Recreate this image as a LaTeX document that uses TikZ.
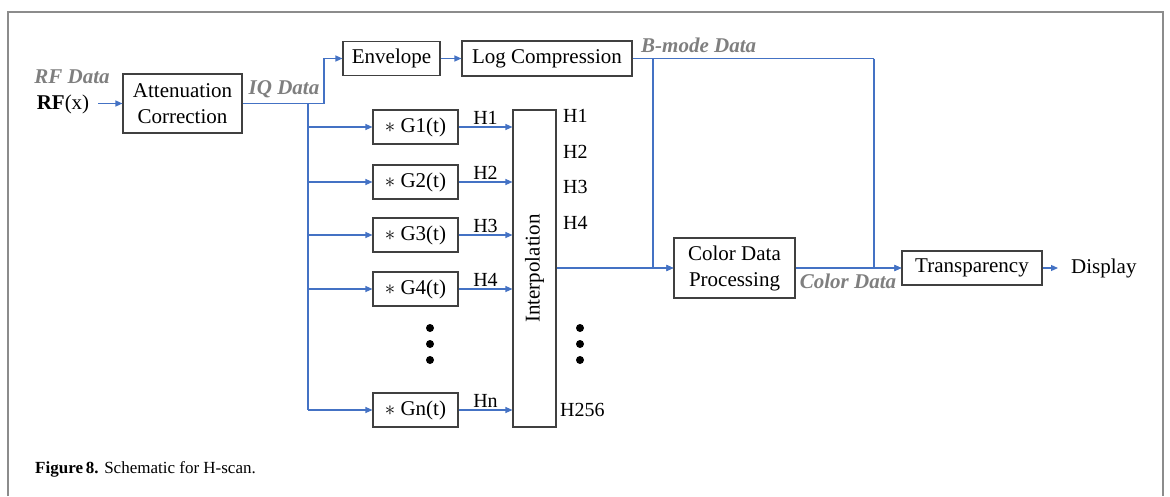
\documentclass[tikz,border=0pt]{standalone}
\usepackage{fontspec}
\setmainfont{Liberation Serif}
\usetikzlibrary{arrows.meta}
\definecolor{flow}{HTML}{4472C4}
\definecolor{tag}{HTML}{7F7F7F}
\definecolor{framegray}{HTML}{8C8C8C}
\definecolor{boxedge}{HTML}{404040}

\begin{document}
\begin{tikzpicture}[x=1pt,y=-1pt,
  box/.style={draw=boxedge, line width=1.1pt, inner sep=0pt,
    font=\fontsize{21}{26}\selectfont, align=center},
  flowline/.style={draw=flow, line width=1.2pt},
  arrow/.style={flowline, -{Triangle[length=7pt,width=6pt]}},
  tagtext/.style={text=tag, font=\fontsize{21}{25}\selectfont\bfseries\itshape, inner sep=0pt},
  plain/.style={font=\fontsize{21}{25}\selectfont, inner sep=0pt},
  hlabel/.style={font=\fontsize{20}{24}\selectfont, inner sep=2pt},
  dotmark/.style={circle, fill=black, inner sep=0pt, minimum size=8pt},
]
\useasboundingbox (0,0) rectangle (1170,496);

% outer frame (open at the bottom)
\draw[framegray, line width=2pt] (8,496) -- (8,12) -- (1163,12) -- (1163,496);

% processing blocks
\node[box, minimum width=119pt, minimum height=59pt] (att) at (182.5,103.5) {Attenuation\\Correction};
\node[box, minimum width=97pt, minimum height=34pt] (env) at (391.5,58.5) {Envelope};
\node[box, minimum width=170pt, minimum height=35pt] (logc) at (547,58.5) {Log Compression};
\node[box, minimum width=85pt, minimum height=34pt] (G1) at (415.5,127) {$\ast$ G1(t)};
\node[box, minimum width=85pt, minimum height=34pt] (G2) at (415.5,182) {$\ast$ G2(t)};
\node[box, minimum width=85pt, minimum height=34pt] (G3) at (415.5,235) {$\ast$ G3(t)};
\node[box, minimum width=85pt, minimum height=34pt] (G4) at (415.5,289) {$\ast$ G4(t)};
\node[box, minimum width=85pt, minimum height=34pt] (Gn) at (415.5,410) {$\ast$ Gn(t)};
\node[box, minimum width=43pt, minimum height=317pt] (interp) at (534.5,268.5) {};
\node[plain, rotate=90] (interptext) at (interp.center) {Interpolation};
\node[box, minimum width=121pt, minimum height=60pt] (cdp) at (734.5,268) {Color Data\\Processing};
\node[box, minimum width=140pt, minimum height=34pt] (trans) at (972,268) {Transparency};

% plain texts
\node[plain] (rfx) at (63,104) {\textbf{RF}(x)};
\node[plain, anchor=west] (display) at (1071,268) {Display};
\node[tagtext] (rflabel) at (72,77) {RF Data};
\node[tagtext] (iqlabel) at (284,89) {IQ Data};
\node[tagtext, anchor=west] (bmodelabel) at (641,45) {B-mode Data};
\node[tagtext] (colorlabel) at (848,281) {Color Data};

% output channel labels
\node[hlabel, inner sep=0pt, anchor=west] (out1) at (563,116) {H1};
\node[hlabel, inner sep=0pt, anchor=west] (out2) at (563,152) {H2};
\node[hlabel, inner sep=0pt, anchor=west] (out3) at (563,187) {H3};
\node[hlabel, inner sep=0pt, anchor=west] (out4) at (563,223) {H4};
\node[hlabel, inner sep=0pt, anchor=west] (out256) at (560,410) {H256};

% ellipsis dots
\node[dotmark] (dl1) at (430,328) {};
\node[dotmark] (dl2) at (430,344) {};
\node[dotmark] (dl3) at (430,360) {};
\node[dotmark] (dr1) at (580,328) {};
\node[dotmark] (dr2) at (580,344) {};
\node[dotmark] (dr3) at (580,360) {};

% routing points
\coordinate (iqbend) at (324,103.5);
\coordinate (split) at (308,103.5);
\coordinate (trunkend) at (308,410);
\coordinate (bsplit) at (653,58.5);
\coordinate (bmodeend) at (874,58.5);

% connectors
\draw[arrow] ([xshift=9pt]rfx.east |- att.west) -- (att.west);
\draw[arrow] (att.east) -- (iqbend) |- (env.west);
\draw[flowline] (split) -- (trunkend);
\foreach \g in {G1,G2,G3,G4,Gn}
  \draw[arrow] (split |- \g.west) -- (\g.west);
\draw[arrow] (G1.east) -- node[hlabel, above] {H1} (interp.west |- G1.east);
\draw[arrow] (G2.east) -- node[hlabel, above] {H2} (interp.west |- G2.east);
\draw[arrow] (G3.east) -- node[hlabel, above] {H3} (interp.west |- G3.east);
\draw[arrow] (G4.east) -- node[hlabel, above] {H4} (interp.west |- G4.east);
\draw[arrow] (Gn.east) -- node[hlabel, above] {Hn} (interp.west |- Gn.east);
\draw[arrow] (env.east) -- (logc.west);
\draw[flowline] (logc.east) -- (bmodeend);
\draw[arrow] (bsplit) |- (cdp.west);
\draw[arrow] (bmodeend) |- (trans.west);
\draw[arrow] (interp.east |- cdp.west) -- (cdp.west);
\draw[arrow] (cdp.east) -- (trans.west);
\draw[arrow] (trans.east) -- ([xshift=-13pt]display.west);

% caption
\node[anchor=west, inner sep=0pt, font=\fontsize{17}{20}\selectfont] (caption) at (35,469)
  {\textbf{Figure\,8.} Schematic for H-scan.};
\end{tikzpicture}
\end{document}
